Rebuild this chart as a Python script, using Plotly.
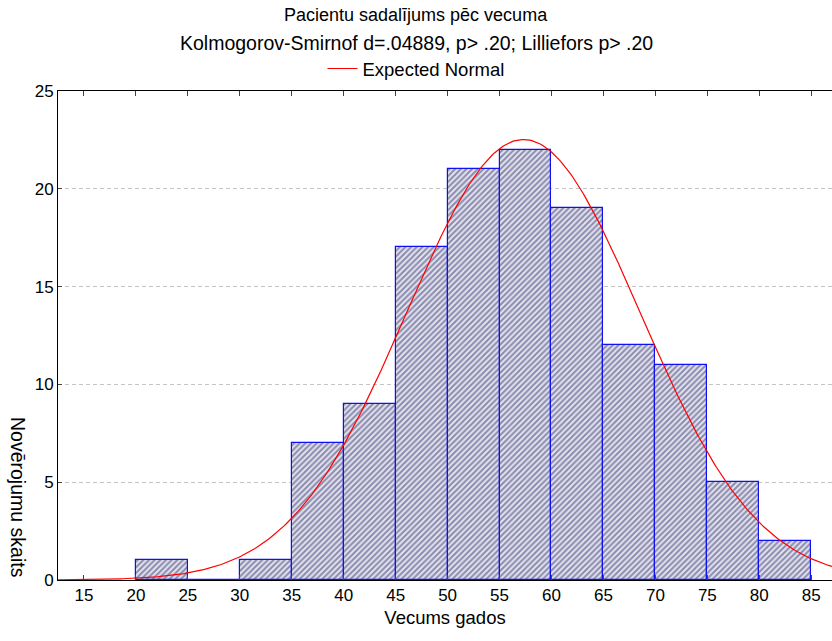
import numpy as np
import plotly.graph_objects as go

bin_edges = [20, 25, 30, 35, 40, 45, 50, 55, 60, 65, 70, 75, 80, 85]
counts = [1, 0, 1, 7, 9, 17, 21, 22, 19, 12, 11, 5, 2]
x_ticks = [15, 20, 25, 30, 35, 40, 45, 50, 55, 60, 65, 70, 75, 80, 85]
y_ticks = [0, 5, 10, 15, 20, 25]
normal_mean = 57.3
normal_sd = 11.25
bin_width = 5

centers = [(a + b) / 2 for a, b in zip(bin_edges[:-1], bin_edges[1:])]
n_total = sum(counts)
xs = np.linspace(12.5, 88, 400)
ys = n_total * bin_width / (normal_sd * np.sqrt(2 * np.pi)) * np.exp(-0.5 * ((xs - normal_mean) / normal_sd) ** 2)

fig = go.Figure()
fig.add_trace(go.Bar(
    x=centers, y=counts, width=bin_width, showlegend=False,
    marker=dict(color="#eaeaf4", line=dict(color="#1010f0", width=1.2),
                pattern=dict(shape="/", fgcolor="#303070", bgcolor="#e4e4ee", size=4, solidity=0.5)),
))
fig.add_trace(go.Scatter(x=xs, y=ys, mode="lines", name="Expected Normal",
                         line=dict(color="#ff0000", width=1.2)))

FF = "Liberation Sans, Arial"
def f(sz):
    return dict(family=FF, size=sz, color="#000000")

fig.update_layout(
    width=832, height=641,
    margin=dict(l=58, r=0, t=91, b=61),
    paper_bgcolor="white", plot_bgcolor="white",
    font=f(17), bargap=0,
    showlegend=True,
    legend=dict(orientation="h", x=0.4625, xanchor="center", y=1.045, yanchor="middle",
                font=f(18.5), bgcolor="rgba(0,0,0,0)"),
    xaxis=dict(range=[12.5, 87.0], tickvals=x_ticks, ticks="inside", ticklen=5,
               showline=True, linecolor="black", linewidth=1, mirror="ticks",
               showgrid=False, zeroline=False, tickfont=f(17),
               title=dict(text="Vecums gados", font=f(18.5), standoff=6)),
    yaxis=dict(range=[0, 25], tickvals=y_ticks, ticks="inside", ticklen=4,
               showline=True, linecolor="black", linewidth=1, mirror=True,
               showgrid=True, gridcolor="#c4c4c4", griddash="4px,3px", gridwidth=1,
               zeroline=False, tickfont=f(17)),
    annotations=[
        dict(text="Pacientu sadalījums pēc vecuma", x=416, y=15, showarrow=False, font=f(18)),
        dict(text="Kolmogorov-Smirnof d=.04889, p> .20; Lilliefors p> .20", x=416, y=43,
             showarrow=False, font=f(19.5)),
        dict(text="Novērojumu skaits", x=18, y=497, textangle=90, showarrow=False, font=f(19.5)),
    ],
)
pw, ph = 832 - 58, 641 - 91 - 61
for a in fig.layout.annotations:
    px, py = a.x, a.y
    a.xref = "paper"; a.yref = "paper"
    a.x = (px - 58) / pw
    a.y = (641 - 61 - py) / ph
    a.xanchor = "center"; a.yanchor = "middle"

fig.write_html("out.html", config={"displayModeBar": False},
               post_script="document.body.style.margin='0';document.body.style.overflow='hidden';")
